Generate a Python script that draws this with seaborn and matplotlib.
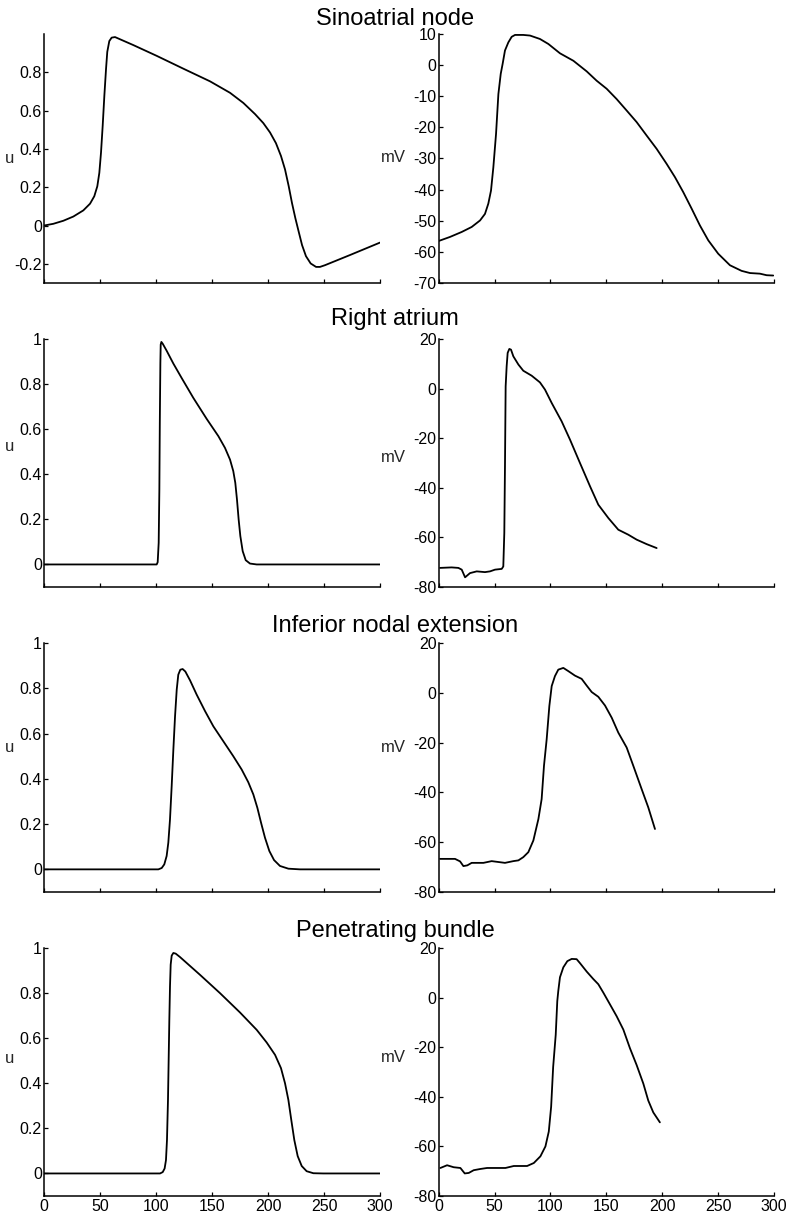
"""Model vs. recorded action potentials for four conduction-system regions."""

import matplotlib

matplotlib.use("Agg")
import matplotlib.pyplot as plt
import seaborn as sns

TITLES = ["Sinoatrial node", "Right atrium", "Inferior nodal extension", "Penetrating bundle"]

# --- model traces (left column): time, dimensionless u ---
sa_model_t = [0, 8.3, 17.3, 26.2, 35.1, 41.1, 44.9, 47.6, 49.4, 50.9, 52.4, 53.9, 55.4, 56.5, 58.3,
              60.4, 63.4, 79.8, 100.6, 124.4, 148.2, 166.1, 178, 188.4, 195.8, 201.8, 207.1, 211.6,
              215.2, 218.5, 221.4, 224.4, 227.4, 230.4, 233.9, 238.1, 242.9, 246.4, 250.9, 273.2, 300]
sa_model_u = [0, 0.009, 0.025, 0.047, 0.079, 0.114, 0.153, 0.205, 0.275, 0.381, 0.521, 0.679, 0.819,
              0.907, 0.963, 0.981, 0.984, 0.942, 0.886, 0.819, 0.753, 0.693, 0.640, 0.582, 0.535,
              0.486, 0.430, 0.363, 0.293, 0.205, 0.118, 0.039, -0.032, -0.102, -0.160, -0.198,
              -0.216, -0.216, -0.207, -0.154, -0.089]

ra_model_t = [0, 100.6, 101.5, 102.4, 103.0, 103.4, 103.9, 104.2, 104.8, 106.0, 109.5, 115.5, 122.9,
              133.3, 145.2, 155.7, 161.6, 166.1, 169.0, 170.8, 172.3, 173.8, 175.3, 177.4, 180.1,
              183.9, 189.9, 300]
ra_model_u = [0, 0, 0.010, 0.096, 0.332, 0.628, 0.894, 0.975, 0.987, 0.979, 0.948, 0.891, 0.827,
              0.739, 0.646, 0.569, 0.517, 0.465, 0.414, 0.362, 0.288, 0.199, 0.126, 0.059, 0.019,
              0.004, 0, 0]

ine_model_t = [0, 102.1, 105.1, 107.4, 109.5, 111.0, 112.5, 114.0, 115.5, 117.0, 118.5, 119.9, 121.7,
               123.8, 126.2, 130.4, 136.3, 143.8, 151.2, 160.1, 169.0, 176.5, 182.4, 186.9, 190.5,
               193.8, 197.3, 201.2, 205.4, 210.7, 218.2, 228.6, 300]
ine_model_u = [0, 0, 0.006, 0.022, 0.059, 0.118, 0.221, 0.368, 0.529, 0.676, 0.794, 0.860, 0.882,
               0.885, 0.874, 0.835, 0.772, 0.699, 0.632, 0.566, 0.500, 0.441, 0.385, 0.331, 0.272,
               0.206, 0.140, 0.081, 0.041, 0.015, 0.003, 0, 0]

pb_model_t = [0, 103.6, 106.0, 107.7, 108.9, 109.8, 110.7, 111.3, 111.9, 112.5, 113.1, 114.0, 115.5,
              117.6, 121.4, 139.3, 157.1, 175.0, 189.9, 198.8, 206.3, 211.6, 215.2, 218.2, 220.8,
              223.5, 226.5, 230.1, 234.5, 240.5, 249.4, 300]
pb_model_u = [0, 0, 0.006, 0.022, 0.059, 0.148, 0.326, 0.504, 0.681, 0.830, 0.926, 0.966, 0.978,
              0.975, 0.960, 0.881, 0.800, 0.714, 0.637, 0.581, 0.526, 0.467, 0.400, 0.326, 0.237,
              0.148, 0.077, 0.033, 0.010, 0.001, 0, 0]

# --- recorded traces (right column): time, mV ---
sa_exp_t = [0, 10.1, 20.6, 29.5, 37, 41.4, 44.4, 46.8, 48.9, 51.3, 53.4, 55.5, 57.2, 59.3, 62.3,
            65.3, 68.3, 75.7, 81.7, 90.6, 98.1, 108.5, 120.5, 132.4, 141.3, 150.3, 159.2, 168.2,
            177.1, 186, 195, 203.9, 211.4, 218.8, 226.3, 233.7, 241.2, 250.1, 260.6, 271, 278.5,
            287.4, 293.4, 299.3]
sa_exp_mv = [-56.5, -55.2, -53.6, -52, -49.9, -47.8, -44.5, -40.3, -32.8, -22.1, -9.3, -2.8, 0.4,
             4.7, 7.3, 9.1, 9.7, 9.7, 9.5, 8.4, 6.8, 3.8, 1.4, -2.0, -5, -7.6, -10.9, -14.6, -18.3,
             -22.6, -26.9, -31.7, -36, -40.8, -46.1, -51.5, -56.3, -60.6, -64.3, -66.1, -66.8, -67,
             -67.5, -67.6]

ra_exp_t = [1.2, 11.6, 17.6, 20.6, 23.6, 28, 34, 41.4, 45.9, 50.4, 56.4, 57.8, 58.7, 59.3, 59.9,
            60.8, 61.7, 63.2, 64.7, 66.8, 71.3, 75.7, 83.2, 90.6, 95.1, 101.1, 110, 117.5, 126.4,
            135.4, 142.8, 151.8, 160.7, 169.6, 177.1, 186, 195]
ra_exp_mv = [-72.3, -72.1, -72.3, -73, -76.1, -74.4, -73.7, -74, -73.7, -73, -72.7, -71.7, -58.2,
             -31.3, 0.9, 9, 14.4, 16, 15.7, 13, 9.7, 7.2, 5.2, 2.5, -0.4, -5.8, -13.2, -20.6, -30,
             -39.4, -46.8, -52.2, -56.9, -58.9, -60.9, -62.7, -64.3]

ine_exp_t = [1.2, 14.6, 19.1, 22.1, 25.6, 29.5, 40, 47.4, 59.3, 66.8, 71.3, 75.7, 80.2, 84.7, 89.2,
             92.1, 94.2, 96.6, 99, 101.1, 104, 107, 111.5, 116, 121.9, 127.9, 132.4, 136.9, 142.8,
             148.8, 154.8, 160.7, 168.2, 174.1, 181.6, 187.5, 193.5]
ine_exp_mv = [-66.7, -66.7, -67.7, -69.6, -69.3, -68.3, -68.3, -67.6, -68.3, -67.6, -67.3, -66, -64,
              -59.3, -50.7, -42.7, -29.3, -18.7, -5.3, 2.7, 6.7, 9.3, 10, 8.7, 6.9, 5.6, 2.9, 0.3,
              -1.6, -5.1, -10, -16, -22, -29.3, -38.7, -46, -54.7]

pb_exp_t = [1.5, 7.5, 13.4, 19.4, 23.3, 26.9, 31.3, 37.3, 43.3, 59.7, 67.2, 79.1, 85.1, 91, 95.5,
            98.5, 100.6, 102.4, 104.7, 106.1, 107, 108.5, 111.5, 115.1, 119, 123.4, 126.4, 132.4,
            138.3, 142.8, 147.3, 153.2, 159.2, 165.2, 171.1, 177.1, 183.1, 187.5, 192, 197.9]
pb_exp_mv = [-68.7, -67.6, -68.4, -68.7, -70.9, -70.7, -69.6, -69.1, -68.7, -68.7, -67.9, -67.9,
             -66.7, -64, -60, -54, -44, -28, -15, -1.4, 2.7, 8.2, 12.2, 14.7, 15.6, 15.5, 13.9, 10.5,
             7.5, 5.4, 2, -2.7, -7.5, -12.9, -20.4, -27.2, -34.7, -41.5, -46.3, -50.3]

model_traces = [(sa_model_t, sa_model_u), (ra_model_t, ra_model_u),
                (ine_model_t, ine_model_u), (pb_model_t, pb_model_u)]
exp_traces = [(sa_exp_t, sa_exp_mv), (ra_exp_t, ra_exp_mv),
              (ine_exp_t, ine_exp_mv), (pb_exp_t, pb_exp_mv)]

X_TICKS = [0, 50, 100, 150, 200, 250, 300]
U_TICKS_SA = [-0.2, 0, 0.2, 0.4, 0.6, 0.8]
U_TICKS = [0, 0.2, 0.4, 0.6, 0.8, 1]
MV_TICKS_SA = [-70, -60, -50, -40, -30, -20, -10, 0, 10]
MV_TICKS = [-80, -60, -40, -20, 0, 20]


def fmt(v):
    return f"{v:g}"


# --- layout (pixels of a 790x1217 canvas) ---
W, H = 790, 1217
ROWS_PX = [(34, 283), (339, 587), (643, 892), (948, 1196)]
TITLE_BASE_PX = [25, 325, 632, 937]
LEFT_X = (44, 380)
RIGHT_X = (438.7, 774)
U_LABEL_Y = [0.5, 0.565, 0.582, 0.556]
MV_LABEL_Y = [0.506, 0.524, 0.582, 0.56]

sns.set_theme(style="ticks")
plt.rcParams.update({
    "font.family": ["Liberation Sans", "DejaVu Sans"],
    "axes.linewidth": 1.1,
    "xtick.direction": "in",
    "ytick.direction": "in",
    "xtick.major.size": 3.2,
    "ytick.major.size": 3.2,
    "xtick.major.width": 0.9,
    "ytick.major.width": 0.9,
    "xtick.major.pad": 2,
    "ytick.major.pad": 1.5,
    "xtick.labelsize": 11.5,
    "ytick.labelsize": 11.5,
    "xtick.color": "black",
    "ytick.color": "black",
    "axes.edgecolor": "black",
    "text.color": "black",
})

fig = plt.figure(figsize=(W / 100, H / 100), dpi=100)

for i in range(4):
    top, bot = ROWS_PX[i]
    y0 = 1 - bot / H
    h = (bot - top) / H
    ax_l = fig.add_axes([LEFT_X[0] / W, y0, (LEFT_X[1] - LEFT_X[0]) / W, h])
    ax_r = fig.add_axes([RIGHT_X[0] / W, y0, (RIGHT_X[1] - RIGHT_X[0]) / W, h])

    t, u = model_traces[i]
    sns.lineplot(x=t, y=u, ax=ax_l, color="black", linewidth=1.3, estimator=None, sort=False)
    t, mv = exp_traces[i]
    sns.lineplot(x=t, y=mv, ax=ax_r, color="black", linewidth=1.3, estimator=None, sort=False)

    if i == 0:
        ax_l.set_ylim(-0.3, 1.0)
        ax_l.set_yticks(U_TICKS_SA, [fmt(v) for v in U_TICKS_SA])
        ax_r.set_ylim(-70, 10)
        ax_r.set_yticks(MV_TICKS_SA, [fmt(v) for v in MV_TICKS_SA])
    else:
        ax_l.set_ylim(-0.1, 1.0)
        ax_l.set_yticks(U_TICKS, [fmt(v) for v in U_TICKS])
        ax_r.set_ylim(-80, 20)
        ax_r.set_yticks(MV_TICKS, [fmt(v) for v in MV_TICKS])

    for ax in (ax_l, ax_r):
        ax.set_xlim(0, 300)
        ax.set_xticks(X_TICKS)
        if i < 3:
            ax.set_xticklabels([])
        else:
            ax.set_xticklabels([str(v) for v in X_TICKS])
        ax.set_xlabel("")
        ax.set_facecolor("white")
        sns.despine(ax=ax)

    ax_l.set_ylabel("u", rotation=0, fontsize=12, ha="center", va="center")
    ax_l.yaxis.set_label_coords((10 - LEFT_X[0]) / (LEFT_X[1] - LEFT_X[0]), U_LABEL_Y[i])
    ax_r.set_ylabel("mV", rotation=0, fontsize=12, ha="center", va="center")
    ax_r.yaxis.set_label_coords((393 - RIGHT_X[0]) / (RIGHT_X[1] - RIGHT_X[0]), MV_LABEL_Y[i])

    fig.text(0.5, 1 - TITLE_BASE_PX[i] / H, TITLES[i], ha="center", va="baseline", fontsize=17)

fig.savefig("out.png", dpi=100, facecolor="white")
plt.close(fig)
